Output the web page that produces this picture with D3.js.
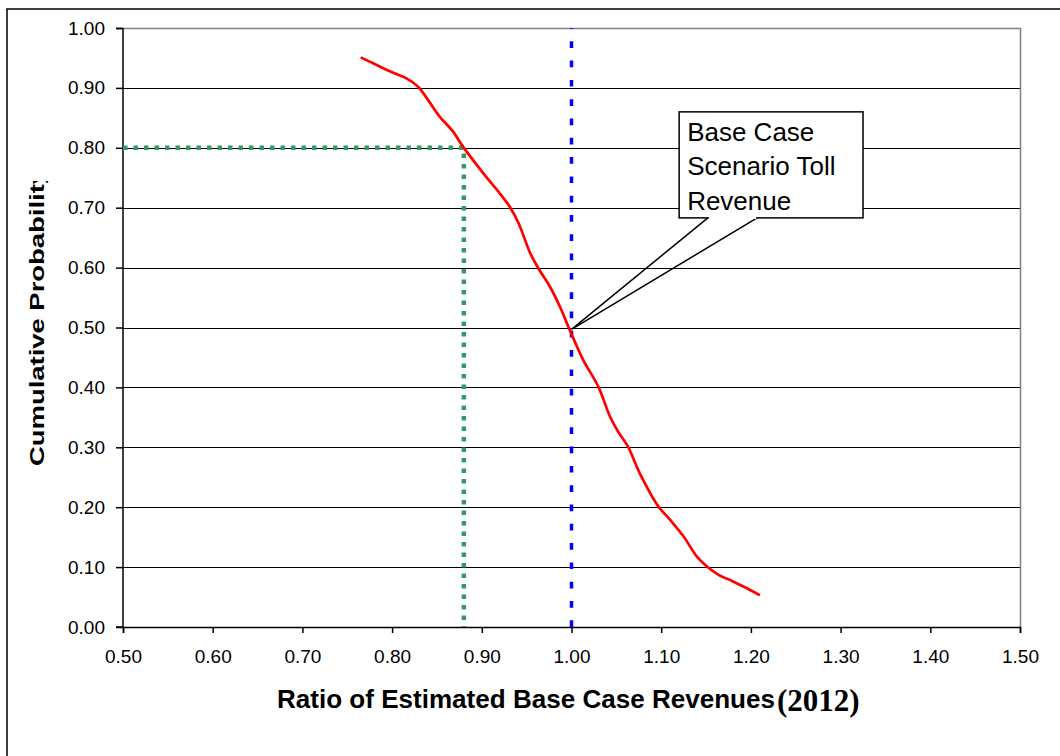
<!DOCTYPE html>
<html>
<head>
<meta charset="utf-8">
<script src="https://cdn.jsdelivr.net/npm/d3@7"></script>
<style>
  html, body { margin: 0; padding: 0; background: #fff; }
  svg { display: block; }
  text { font-family: "Liberation Sans", Arial, sans-serif; }
</style>
</head>
<body>
<svg id="chart" width="1060" height="756"></svg>
<script>
// ---- data ----
const ratioX = [0.765,0.779,0.800,0.816,0.829,0.840,0.853,0.868,0.879,0.902,0.920,0.931,0.941,0.954,0.963,0.976,0.987,0.998,1.013,1.030,1.043,1.052,1.063,1.076,1.097,1.110,1.125,1.140,1.151,1.164,1.180,1.195,1.210];
const cumProb = [0.951,0.941,0.926,0.916,0.902,0.880,0.852,0.827,0.802,0.757,0.724,0.702,0.674,0.624,0.599,0.568,0.535,0.496,0.446,0.401,0.351,0.326,0.301,0.257,0.201,0.179,0.151,0.117,0.101,0.087,0.076,0.065,0.053];
const xTicks = [0.5,0.6,0.7,0.8,0.9,1.0,1.1,1.2,1.3,1.4,1.5];
const yTicks = [0,0.1,0.2,0.3,0.4,0.5,0.6,0.7,0.8,0.9,1.0];
const greenRef = [[0.5,0.8],[0.88,0.8],[0.88,0]];
const blueRef = [[1.0,0],[1.0,1.0]];
const calloutLines = ["Base Case","Scenario Toll","Revenue"];
const calloutTip = [1.0, 0.497];

// ---- layout ----
const svg = d3.select("#chart");
const L = 123, R = 1020, T = 28, B = 627;
const x = d3.scaleLinear().domain([0.5,1.5]).range([L,R]);
const y = d3.scaleLinear().domain([0,1]).range([B,T]);

// outer frame
svg.append("rect").attr("x",7).attr("y",9).attr("width",1200).attr("height",900)
  .attr("fill","#fff").attr("stroke","#000").attr("stroke-width",1.5);

// gridlines
svg.append("g").selectAll("line").data(yTicks.filter(d=>d>0 && d<1)).join("line")
  .attr("x1",L).attr("x2",R).attr("y1",d=>Math.round(y(d))+0.5).attr("y2",d=>Math.round(y(d))+0.5)
  .attr("stroke","#000").attr("stroke-width",1.2);
// plot-area border top/right (gray)
svg.append("path").attr("d",`M${L},${T+0.5}H${R+0.5}V${B}`).attr("fill","none")
  .attr("stroke","#808080").attr("stroke-width",1.5);

// axes
const yAxis = d3.axisLeft(y).tickValues(yTicks).tickFormat(d3.format(".2f")).tickSize(7).tickPadding(11);
const xAxis = d3.axisBottom(x).tickValues(xTicks).tickFormat(d3.format(".2f")).tickSize(6).tickPadding(17);
const gy = svg.append("g").attr("transform",`translate(${L},0)`).call(yAxis);
const gx = svg.append("g").attr("transform",`translate(0,${B})`).call(xAxis);
[gx,gy].forEach(g=>{
  g.select(".domain").attr("stroke","#000").attr("stroke-width",1.5);
  g.selectAll(".tick line").attr("stroke","#000").attr("stroke-width",1.5);
  g.selectAll(".tick text").attr("fill","#000").style("font-size","19px")
   .style("font-family","'Liberation Sans', Arial, sans-serif");
});
gy.select(".domain").attr("d",`M-7,${T+0.5}H0V${B}H-7`);

// green dotted reference
const lineGen = d3.line().x(d=>x(d[0])).y(d=>y(d[1]));
svg.append("path").attr("d",lineGen(greenRef)).attr("fill","none")
  .attr("stroke","#339966").attr("stroke-width",4.5).attr("stroke-dasharray","4.5,6");

// blue dashed reference at 1.00
svg.append("path").attr("d",lineGen(blueRef)).attr("fill","none")
  .attr("stroke","#0000FF").attr("stroke-width",3.5).attr("stroke-dasharray","6.7,12.6");

// red curve
const curve = d3.line().x((d,i)=>x(ratioX[i])).y(d=>y(d)).curve(d3.curveCatmullRom);
svg.append("path").attr("d",curve(cumProb)).attr("fill","none")
  .attr("stroke","#FF0000").attr("stroke-width",2.7);

// callout
const bx0 = x(1.120), bx1 = x(1.325), by0 = y(0.860), by1 = y(0.683);
const w0 = x(1.152), w1 = x(1.207);
const tx = x(calloutTip[0]), ty = y(calloutTip[1]);
svg.append("rect").attr("x",bx0).attr("y",by0).attr("width",bx1-bx0).attr("height",by1-by0)
  .attr("fill","#fff").attr("stroke","#000").attr("stroke-width",1.5);
svg.append("path").attr("d",`M${w0},${by1}L${tx},${ty}L${w1},${by1}`)
  .attr("fill","none").attr("stroke","#000").attr("stroke-width",1.5);
svg.append("line").attr("x1",w0+1).attr("x2",w1-1).attr("y1",by1).attr("y2",by1)
  .attr("stroke","#fff").attr("stroke-width",2);
svg.append("g").selectAll("text").data(calloutLines).join("text")
  .attr("x",bx0+8).attr("y",(d,i)=>by0+29+i*34.5)
  .style("font-size","26px").attr("fill","#000").text(d=>d);

// axis titles
const xt = svg.append("text").attr("x",277).attr("y",708).attr("fill","#000");
xt.append("tspan").style("font-weight","bold").style("font-size","25px")
  .attr("textLength",498).attr("lengthAdjust","spacingAndGlyphs")
  .text("Ratio of Estimated Base Case Revenues");
svg.append("text").attr("x",777).attr("y",711).attr("fill","#000")
  .style("font-family","'Liberation Serif', 'Times New Roman', serif")
  .style("font-weight","bold").style("font-size","31px").text("(2012)");

svg.append("clipPath").attr("id","ytclip").append("rect")
  .attr("x",0).attr("y",181).attr("width",100).attr("height",400);
svg.append("g").attr("clip-path","url(#ytclip)").append("text")
  .attr("transform","translate(44,466) rotate(-90)")
  .attr("fill","#000").style("font-weight","bold").style("font-size","21px")
  .attr("textLength",297).attr("lengthAdjust","spacingAndGlyphs")
  .text("Cumulative Probability");
</script>
</body>
</html>
